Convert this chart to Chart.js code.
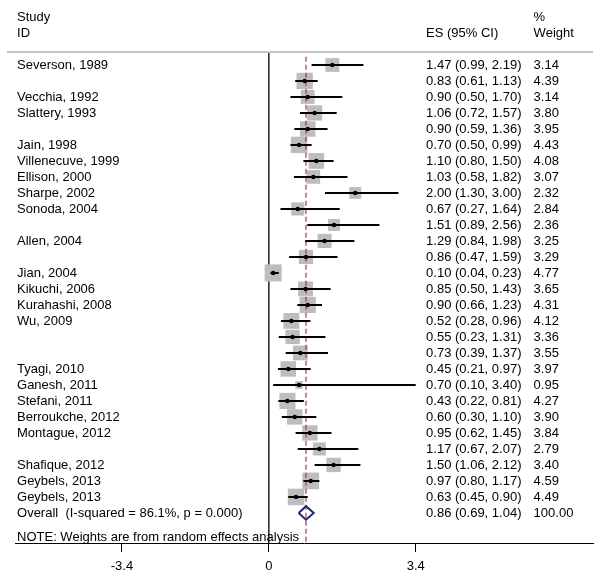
<!DOCTYPE html>
<html>
<head>
<meta charset="utf-8">
<script src="https://cdn.jsdelivr.net/npm/chart.js@4.4.1/dist/chart.umd.min.js"></script>
<style>
  body { margin: 0; background: #fff; }
  #wrap { width: 600px; height: 580px; }
</style>
</head>
<body>
<div id="wrap"><canvas id="chart" width="600" height="580"></canvas></div>
<script>
// study rows, top to bottom ("" = no label on that row)
const studies = [
  "Severson, 1989", "", "Vecchia, 1992", "Slattery, 1993", "", "Jain, 1998",
  "Villenecuve, 1999", "Ellison, 2000", "Sharpe, 2002", "Sonoda, 2004", "",
  "Allen, 2004", "", "Jian, 2004", "Kikuchi, 2006", "Kurahashi, 2008", "Wu, 2009",
  "", "", "Tyagi, 2010", "Ganesh, 2011", "Stefani, 2011", "Berroukche, 2012",
  "Montague, 2012", "", "Shafique, 2012", "Geybels, 2013", "Geybels, 2013"
];
const es = [1.47, 0.83, 0.90, 1.06, 0.90, 0.70, 1.10, 1.03, 2.00, 0.67, 1.51, 1.29, 0.86, 0.10,
  0.85, 0.90, 0.52, 0.55, 0.73, 0.45, 0.70, 0.43, 0.60, 0.95, 1.17, 1.50, 0.97, 0.63];
const lower = [0.99, 0.61, 0.50, 0.72, 0.59, 0.50, 0.80, 0.58, 1.30, 0.27, 0.89, 0.84, 0.47, 0.04,
  0.50, 0.66, 0.28, 0.23, 0.39, 0.21, 0.10, 0.22, 0.30, 0.62, 0.67, 1.06, 0.80, 0.45];
const upper = [2.19, 1.13, 1.70, 1.57, 1.36, 0.99, 1.50, 1.82, 3.00, 1.64, 2.56, 1.98, 1.59, 0.23,
  1.43, 1.23, 0.96, 1.31, 1.37, 0.97, 3.40, 0.81, 1.10, 1.45, 2.07, 2.12, 1.17, 0.90];
const weights = [3.14, 4.39, 3.14, 3.80, 3.95, 4.43, 4.08, 3.07, 2.32, 2.84, 2.36, 3.25, 3.29, 4.77,
  3.65, 4.31, 4.12, 3.36, 3.55, 3.97, 0.95, 4.27, 3.90, 3.84, 2.79, 3.40, 4.59, 4.49];

const overallLabel = "Overall  (I-squared = 86.1%, p = 0.000)";
const overallES = 0.86;
const overallLower = 0.69;
const overallUpper = 1.04;
const overallWeight = "100.00";
const noteText = "NOTE: Weights are from random effects analysis";

const xTicks = [-3.4, 0, 3.4];

const rows = studies.map((s, i) => i + 1);
const overallRow = studies.length + 1;
const yMin = 0.19, yMax = 30.88;
const fmt = v => v.toFixed(2);

// CI segments separated by gaps
const ciData = [];
rows.forEach((r, i) => {
  ciData.push({ x: lower[i], y: r }, { x: upper[i], y: r }, { x: NaN, y: NaN });
});

const FONT = '13px "Liberation Sans", Arial, sans-serif';

const textPlugin = {
  id: 'forestText',
  afterDatasetsDraw(chart) {
    const { ctx, scales: { x, y }, chartArea } = chart;
    ctx.save();
    // header rule
    ctx.strokeStyle = '#c4c4c4';
    ctx.lineWidth = 2;
    ctx.beginPath();
    ctx.moveTo(7, chartArea.top);
    ctx.lineTo(chartArea.right, chartArea.top);
    ctx.stroke();

    ctx.font = FONT;
    ctx.fillStyle = '#000';
    ctx.textBaseline = 'middle';
    ctx.textAlign = 'left';
    const colStudy = x.getPixelForValue(-5.83);
    const colES = x.getPixelForValue(3.64);
    const colW = x.getPixelForValue(6.13);

    ctx.fillText("Study", colStudy, y.getPixelForValue(-2));
    ctx.fillText("ID", colStudy, y.getPixelForValue(-1));
    ctx.fillText("ES (95% CI)", colES, y.getPixelForValue(-1));
    ctx.fillText("%", colW, y.getPixelForValue(-2));
    ctx.fillText("Weight", colW, y.getPixelForValue(-1));

    rows.forEach((r, i) => {
      const py = y.getPixelForValue(r);
      if (studies[i]) ctx.fillText(studies[i], colStudy, py);
      ctx.fillText(`${fmt(es[i])} (${fmt(lower[i])}, ${fmt(upper[i])})`, colES, py);
      ctx.fillText(fmt(weights[i]), colW, py);
    });

    const oy = y.getPixelForValue(overallRow);
    ctx.fillText(overallLabel, colStudy, oy);
    ctx.fillText(`${fmt(overallES)} (${fmt(overallLower)}, ${fmt(overallUpper)})`, colES, oy);
    ctx.fillText(overallWeight, colW, oy);

    ctx.fillText(noteText, colStudy, y.getPixelForValue(overallRow + 1.55));
    ctx.restore();
  }
};

new Chart(document.getElementById("chart"), {
  type: 'scatter',
  data: {
    datasets: [
      {
        // point estimates
        data: rows.map((r, i) => ({ x: es[i], y: r })),
        pointStyle: 'circle',
        pointRadius: 2.2,
        backgroundColor: '#000',
        borderWidth: 0,
        order: 0
      },
      {
        // confidence intervals
        data: ciData,
        showLine: true,
        spanGaps: false,
        borderColor: '#000',
        borderWidth: 2,
        pointRadius: 0,
        order: 1
      },
      {
        // weight boxes
        data: rows.map((r, i) => ({ x: es[i], y: r })),
        pointStyle: 'rect',
        pointRadius: weights.map(w => 7.8 * Math.sqrt(w) / 1.4142),
        backgroundColor: '#bdbdbd',
        borderWidth: 0,
        order: 3
      },
      {
        // overall diamond
        data: [
          { x: overallLower, y: overallRow },
          { x: overallES, y: overallRow - 0.42 },
          { x: overallUpper, y: overallRow },
          { x: overallES, y: overallRow + 0.42 },
          { x: overallLower, y: overallRow }
        ],
        showLine: true,
        borderColor: '#1e2a78',
        borderWidth: 2,
        pointRadius: 0,
        order: 0
      },
      {
        // overall effect reference line
        data: [{ x: overallES, y: yMin + 0.3 }, { x: overallES, y: yMax }],
        showLine: true,
        borderColor: '#b0304a',
        borderWidth: 1.2,
        borderDash: [5, 3],
        pointRadius: 0,
        order: 2
      },
      {
        // null line
        data: [{ x: 0, y: yMin }, { x: 0, y: yMax }],
        showLine: true,
        borderColor: '#222',
        borderWidth: 1.5,
        pointRadius: 0,
        order: 4
      }
    ]
  },
  options: {
    responsive: false,
    animation: false,
    layout: { autoPadding: false, padding: { left: 15, right: 7, top: 52, bottom: 0 } },
    plugins: { legend: { display: false }, tooltip: { enabled: false } },
    scales: {
      x: {
        type: 'linear',
        min: -5.877,
        max: 7.505,
        afterBuildTicks(scale) {
          scale.ticks = xTicks.map(v => ({ value: v }));
        },
        afterFit(scale) {
          scale.height = 37;
          scale.paddingLeft = 0;
          scale.paddingRight = 0;
        },
        border: { display: true, color: '#000', width: 1 },
        grid: { drawOnChartArea: false, drawTicks: true, tickLength: 9, color: '#000' },
        ticks: {
          color: '#000',
          padding: 7,
          maxRotation: 0,
          font: { family: '"Liberation Sans", Arial, sans-serif', size: 13 },
          callback: v => String(v)
        }
      },
      y: {
        type: 'linear',
        display: false,
        reverse: true,
        min: yMin,
        max: yMax
      }
    }
  },
  plugins: [textPlugin]
});
</script>
</body>
</html>
